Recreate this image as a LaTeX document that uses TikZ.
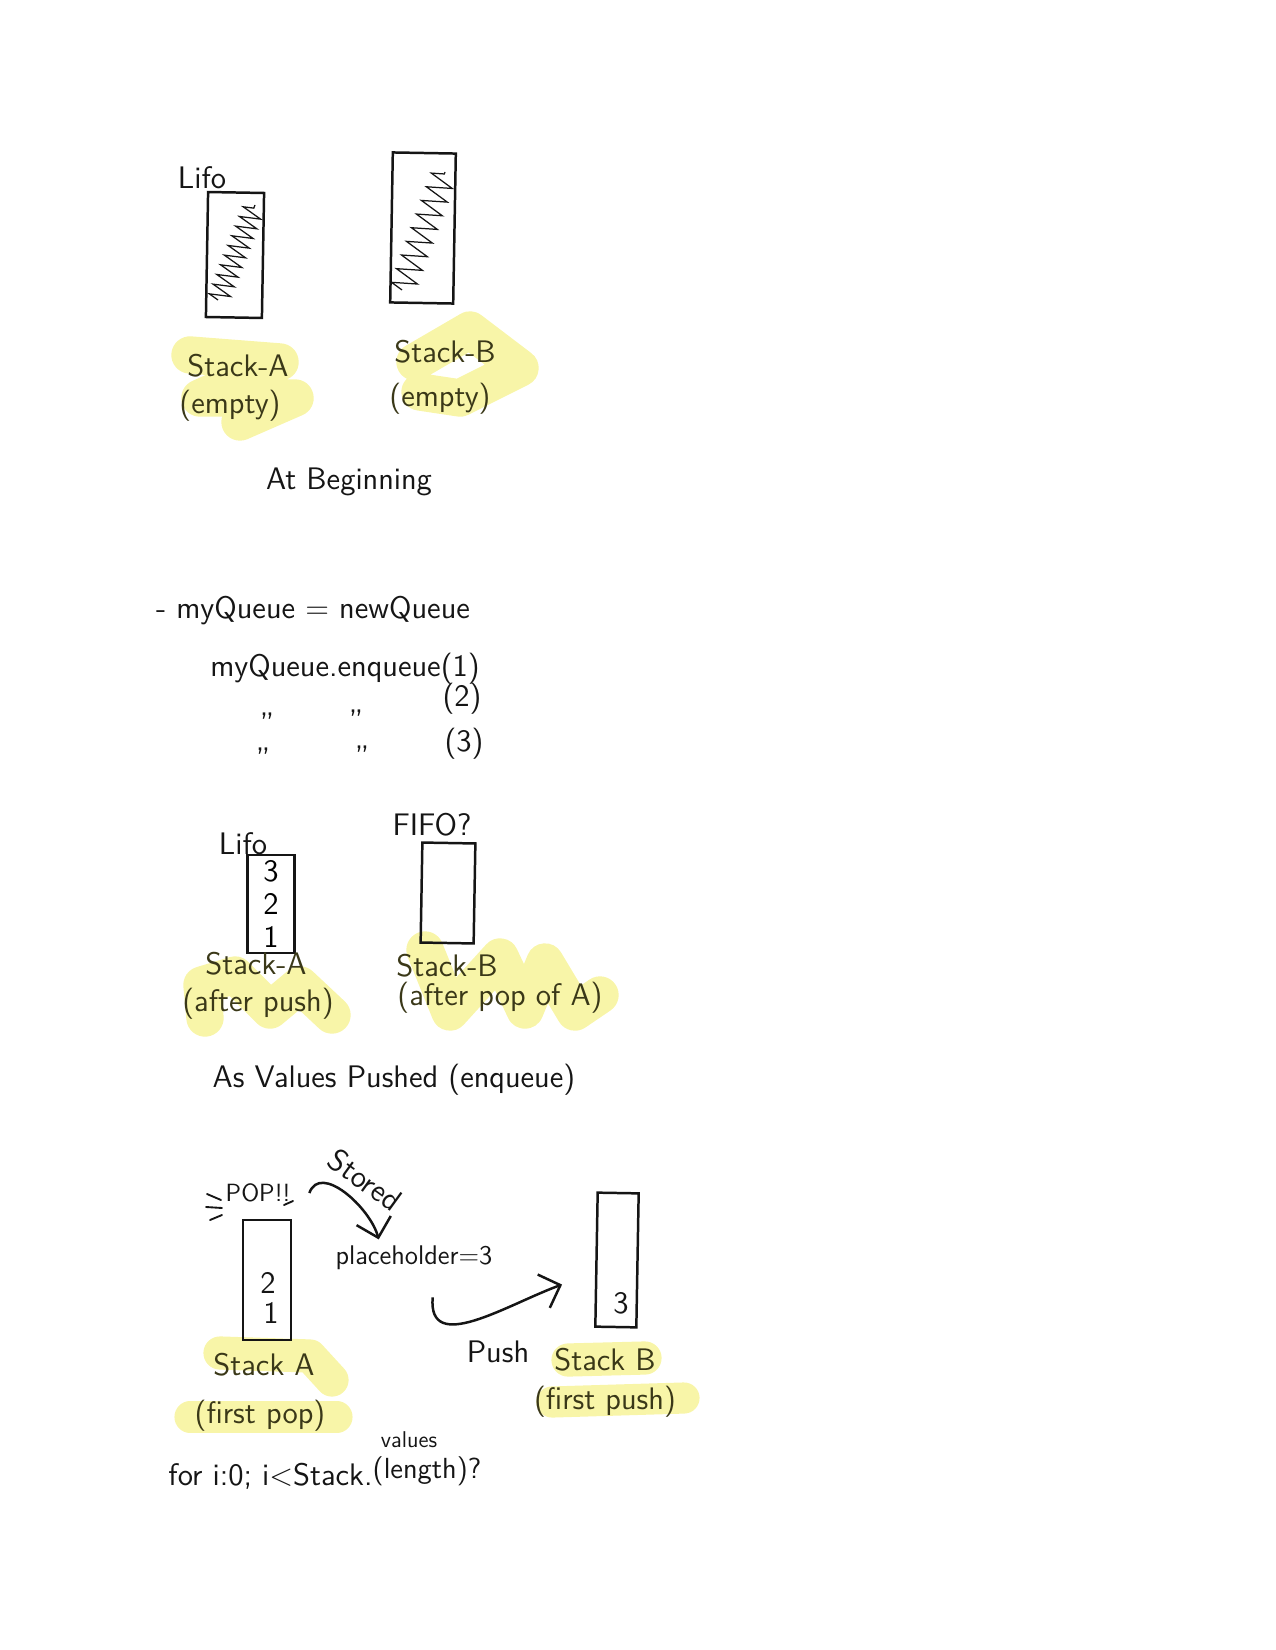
\documentclass[tikz,border=0pt]{standalone}
\usepackage{tikz}
\usetikzlibrary{arrows.meta,decorations.pathmorphing}
\definecolor{ink}{HTML}{151515}
\definecolor{hlink}{HTML}{3A3818}
\definecolor{hlyellow}{HTML}{F8F5A8}
\newcommand{\pxl}{0.4818pt}

\begin{document}
\begin{tikzpicture}[
  x=\pxl, y=-\pxl, % one unit = one pixel, measured from the top
  hand/.style={font=\sffamily\fontsize{15}{18}\selectfont, text=ink, inner sep=1pt},
  hlabel/.style={hand, text=hlink},
  stackbox/.style 2 args={draw=ink, line width=1.2pt, inner sep=0pt,
             minimum width=#1*\pxl, minimum height=#2*\pxl,
             font=\sffamily\fontsize{15}{16}\selectfont, align=center},
  hl/.style={hlyellow, line width=18pt, line cap=round, line join=round},
  scrib/.style={ink, line width=.6pt, decorate,
             decoration={zigzag, segment length=5pt, amplitude=5pt}},
  flow/.style={-{Straight Barb[length=3mm]}, ink, line width=1.2pt},
  tick/.style={ink, line width=.9pt, line cap=round}
]
\useasboundingbox (0,0) rectangle (1275,1650);

% highlighter strokes first, so the words sit on top
\draw[hl] (190,355) -- (280,362) -- (200,398) -- (295,398) -- (240,422);
\draw[hl] (415,362) -- (470,330) -- (520,368) -- (460,398) -- (420,392);
\draw[hl] (205,1018) -- (202,985) -- (235,975) -- (270,1010) -- (300,985) -- (332,1015);
\draw[hl] (425,950) -- (450,1012) -- (500,957) -- (525,1010) -- (545,962) -- (575,1012) -- (600,995);
\draw[hl,line width=16pt] (220,1353) -- (310,1356) -- (332,1380);
\draw[hl,line width=15pt] (190,1417) -- (337,1417);
\draw[hl,line width=16pt] (568,1360) -- (645,1358);
\draw[hl,line width=15pt] (552,1402) -- (684,1398);

% at beginning
\node[hand] (lifoA1) at (202,178) {Lifo};
\node[stackbox={56}{125}, rotate=-1] (stackA1) at (235,255) {};
\node[stackbox={63}{150}, rotate=-1] (stackB1) at (423,228) {};
\draw[scrib] (218,300) -- (255,205);
\draw[scrib, decoration={segment length=7pt, amplitude=6pt}] (402,290) -- (445,172);
\node[hlabel] (lblA1) at (238,366) {Stack-A};
\node[hlabel] (subA1) at (230,406) {(empty)};
\node[hlabel] (lblB1) at (445,352) {Stack-B};
\node[hlabel] (subB1) at (440,399) {(empty)};
\node[hand] (title1) at (349,482) {At Beginning};

% the queue code
\node[hand] (codeA) at (313,611) {- myQueue = newQueue};
\node[hand] (codeB) at (345,669) {myQueue.enqueue(1)};
\node[hand] (codeC) at (462,699) {(2)};
\node[hand] (codeD) at (464,744) {(3)};
\node[hand, anchor=north] (dittoA) at (267,710) {''};
\node[hand, anchor=north] (dittoB) at (356,707) {''};
\node[hand, anchor=north] (dittoC) at (263,745) {''};
\node[hand, anchor=north] (dittoD) at (362,743) {''};

% as values pushed
\node[hand] (lifoA2) at (243,844) {Lifo};
\node[stackbox={47}{98}] (stackA2) at (271,904) {3\\2\\1};
\node[hand] (fifoB2) at (432,825) {FIFO?};
\node[stackbox={53}{100}, rotate=-1] (stackB2) at (448,893) {};
\node[hlabel] (lblA2) at (256,964) {Stack-A};
\node[hlabel] (subA2) at (258,1004) {(after push)};
\node[hlabel] (lblB2) at (447,966) {Stack-B};
\node[hlabel] (subB2) at (500,998) {(after pop of A)};
\node[hand] (title2) at (394,1080) {As Values Pushed (enqueue)};

% first pop and push
\node[hand, font=\sffamily\fontsize{12}{14}\selectfont] (pop) at (258,1193) {POP!!};
\draw[tick] (207,1194) -- (221,1200);
\draw[tick] (206,1207) -- (222,1208);
\draw[tick] (210,1220) -- (222,1215);
\draw[tick] (284,1205) -- (293,1201);
\node[stackbox={48}{120}] (stackA3) at (267,1280) {};
\node[hand] (a3two) at (268,1283) {2};
\node[hand] (a3one) at (271,1313) {1};
\node[hand, font=\sffamily\fontsize{13}{15}\selectfont] (holder) at (414,1258) {placeholder=3};
\node[hand, rotate=-36] (stored) at (365,1180) {Stored};
\draw[flow] ([xshift=8pt]pop.east) to[out=70,in=105] ([xshift=-17pt,yshift=2pt]holder.north);
\node[stackbox={41}{134}, rotate=-1] (stackB3) at (617,1260) {};
\node[hand] (b3three) at (621,1303) {3};
\draw[flow] ([xshift=9pt,yshift=-12pt]holder.south) to[out=-95,in=-160,looseness=1.15]
  ([xshift=-16pt,yshift=-12pt]stackB3.west);
\node[hand] (pushlbl) at (498,1352) {Push};
\node[hlabel] (lblA3) at (264,1365) {Stack A};
\node[hlabel] (subA3) at (260,1416) {(first pop)};
\node[hlabel] (lblB3) at (605,1360) {Stack B};
\node[hlabel] (subB3) at (605,1402) {(first push)};
\node[hand, anchor=west] (loopA) at (166,1476) {for i:0; i<Stack.};
\node[hand, font=\sffamily\fontsize{11}{12}\selectfont] (loopB) at (409,1440) {values};
\node[hand, font=\sffamily\fontsize{14}{16}\selectfont] (loopC) at (427,1471) {(length)?};
\end{tikzpicture}
\end{document}
